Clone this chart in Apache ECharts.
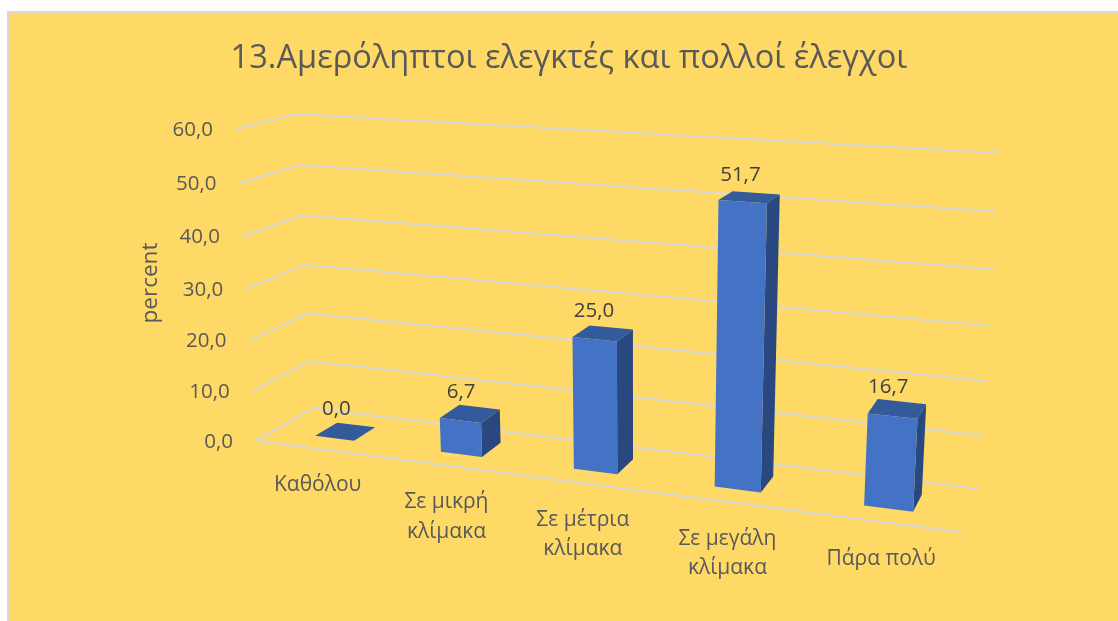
<!DOCTYPE html>
<html>
<head>
<meta charset="utf-8">
<title>13</title>
<script src="https://cdn.jsdelivr.net/npm/echarts@6/dist/echarts.min.js"></script>
<style>
    html, body { margin: 0; padding: 0; background: #fff; }
    #chart { width: 1118px; height: 621px; }
</style>
</head>
<body>
<div id="chart"></div>
<script>
const titleText = '13.Αμερόληπτοι ελεγκτές και πολλοί έλεγχοι';
const yAxisName = 'percent';
const categories = ['Καθόλου', 'Σε μικρή\nκλίμακα', 'Σε μέτρια\nκλίμακα', 'Σε μεγάλη\nκλίμακα', 'Πάρα πολύ'];
const values = [0.0, 6.7, 25.0, 51.7, 16.7];
const yTicks = [0, 10, 20, 30, 40, 50, 60];

// floor of the 3d box as seen on screen: front-left, front-right, back-right, back-left
const floorQuad = [[256, 440.7], [961.7, 532.3], [980, 489], [312.7, 408.3]];
const topFrontLeft = [236, 129];
const heightPersp = -0.05; // perspective along the value direction
const depthFront = 0.3, depthBack = 0.7;
const barRatio = 0.315; // bar width / category width

const fontName = '"Open Sans", "Noto Sans", sans-serif';
const fmt = v => v.toFixed(1).replace('.', ',');

// projection matrix: floor homography plus the value direction
function makeProjection(q, topLeft, k) {
    const [p0, p1, p2, p3] = q;
    const dx1 = p1[0] - p2[0], dx2 = p3[0] - p2[0], sx = p0[0] - p1[0] + p2[0] - p3[0];
    const dy1 = p1[1] - p2[1], dy2 = p3[1] - p2[1], sy = p0[1] - p1[1] + p2[1] - p3[1];
    const det = dx1 * dy2 - dx2 * dy1;
    const g = (sx * dy2 - dx2 * sy) / det;
    const h = (dx1 * sy - sx * dy1) / det;
    const a = p1[0] - p0[0] + g * p1[0], b = p3[0] - p0[0] + h * p3[0];
    const d = p1[1] - p0[1] + g * p1[1], e = p3[1] - p0[1] + h * p3[1];
    const A = topLeft[0] * (1 + k) - p0[0], B = topLeft[1] * (1 + k) - p0[1];
    // u across, v up, w into the picture, all 0..1
    return function (u, v, w) {
        const n = g * u + h * w + k * v + 1;
        return [(a * u + b * w + A * v + p0[0]) / n, (d * u + e * w + B * v + p0[1]) / n];
    };
}
const project = makeProjection(floorQuad, topFrontLeft, heightPersp);

// pixel from the hidden grid's axes -> 0..1 inside the grid
function toUnit(params, api, cat, val) {
    const cs = params.coordSys;
    const p = api.coord([cat, val]);
    return [(p[0] - cs.x) / cs.width, 1 - (p[1] - cs.y) / cs.height];
}

function renderGrid(params, api) {
    const tick = api.value(0);
    const v = toUnit(params, api, 0, tick)[1];
    const a = project(0, v, 0), b = project(0, v, 1), c = project(1, v, 1);
    const lineStyle = { stroke: '#D9D9D9', lineWidth: 2, fill: null };
    const children = [
        { type: 'polyline', shape: { points: [a, b, c] }, style: lineStyle },
        {
            type: 'text',
            style: {
                text: fmt(tick), x: a[0] - 23, y: a[1] + 1,
                align: 'right', verticalAlign: 'middle',
                font: '20.5px ' + fontName, fill: '#595959'
            }
        }
    ];
    if (tick === 0) {
        const e = project(1, 0, 0);
        children.push({ type: 'line', shape: { x1: a[0], y1: a[1], x2: e[0], y2: e[1] }, style: lineStyle });
    }
    return { type: 'group', children: children };
}

function renderBar(params, api) {
    const i = api.value(0), val = api.value(1);
    const center = toUnit(params, api, i, val);
    const half = api.size([1, 0])[0] / params.coordSys.width * barRatio / 2;
    const u0 = center[0] - half, u1 = center[0] + half, v = center[1];
    const d0 = depthFront, d1 = depthBack;
    const face = (pts, color) => ({ type: 'polygon', shape: { points: pts }, style: { fill: color } });
    const top = project(center[0], v, 0.5);
    return {
        type: 'group',
        children: [
            face([project(u1, 0, d0), project(u1, 0, d1), project(u1, v, d1), project(u1, v, d0)], '#2A4880'),
            face([project(u0, v, d0), project(u1, v, d0), project(u1, v, d1), project(u0, v, d1)], '#335A9A'),
            face([project(u0, 0, d0), project(u1, 0, d0), project(u1, v, d0), project(u0, v, d0)], '#4472C4'),
            {
                type: 'text',
                style: {
                    text: fmt(val), x: top[0] - 9, y: top[1] - 22,
                    align: 'center', verticalAlign: 'middle',
                    font: '20.5px ' + fontName, fill: '#404040'
                }
            }
        ]
    };
}

function renderCategory(params, api) {
    const i = api.value(0);
    const u = toUnit(params, api, i, 0)[0];
    const p = project(u, 0, 0);
    return {
        type: 'text',
        style: {
            text: categories[i], x: p[0], y: p[1] + 22,
            align: 'center', verticalAlign: 'top', lineHeight: 29.5,
            font: '21px ' + fontName, fill: '#595959'
        }
    };
}

const chart = echarts.init(document.getElementById('chart'));
chart.setOption({
    animation: false,
    backgroundColor: '#fff',
    title: {
        text: titleText, left: 564, top: 37, textAlign: 'center',
        textStyle: { fontFamily: fontName, fontSize: 32.6, fontWeight: 'normal', color: '#595959' }
    },
    graphic: [
        // the frame runs off the right and bottom of the picture
        { type: 'rect', z: -10, shape: { x: 8, y: 12, width: 1130, height: 630 }, style: { fill: '#FFD966', stroke: '#D9D9D9', lineWidth: 2 } },
        {
            type: 'text', x: 151, y: 283, rotation: Math.PI / 2, z: 5,
            style: { text: yAxisName, align: 'center', verticalAlign: 'middle', font: '22.5px ' + fontName, fill: '#595959' }
        }
    ],
    grid: { left: 100, right: 100, top: 100, bottom: 100 },
    xAxis: { type: 'category', data: categories, show: false },
    yAxis: { type: 'value', min: 0, max: 60, interval: 10, show: false },
    series: [
        { type: 'custom', coordinateSystem: 'cartesian2d', data: yTicks.map(t => [t]), encode: { x: -1, y: 0 }, renderItem: renderGrid, silent: true, z: 1, clip: false },
        { type: 'custom', coordinateSystem: 'cartesian2d', data: categories.map((c, i) => [i]), encode: { x: 0, y: -1 }, renderItem: renderCategory, silent: true, z: 2, clip: false },
        { type: 'custom', coordinateSystem: 'cartesian2d', data: values.map((v, i) => [i, v]), encode: { x: 0, y: 1 }, renderItem: renderBar, z: 3, clip: false }
    ]
});
</script>
</body>
</html>
